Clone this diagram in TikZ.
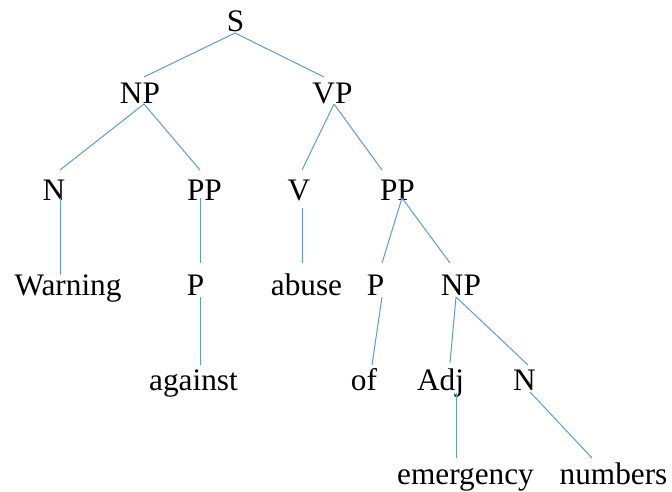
\documentclass[tikz,border=0pt]{standalone}
\usepackage{fontspec}
\setmainfont{Liberation Serif}
\definecolor{branch}{RGB}{91,155,213}
\begin{document}
\begin{tikzpicture}[x=1pt,y=-1pt,
  lbl/.style={inner sep=0pt, anchor=base, font=\fontsize{31.3}{36}\selectfont},
  edge/.style={draw=branch, line width=1pt}]
\useasboundingbox (0,0) rectangle (672,492);
% labels, placed by their baselines
\node[lbl] (S)   at (235.5,32)  {S};
\node[lbl] (NP1) at (140,104)   {NP};
\node[lbl] (VP)  at (332.5,104) {VP};
\node[lbl] (N1)  at (54,200)    {N};
\node[lbl] (PP1) at (204.5,200) {PP};
\node[lbl] (V)   at (299,200)   {V};
\node[lbl] (PP2) at (397.5,200) {PP};
\node[lbl] (W)   at (68,295)    {Warning};
\node[lbl] (P1)  at (195.5,295) {P};
\node[lbl] (AB)  at (306.5,295) {abuse};
\node[lbl] (P2)  at (375.5,295) {P};
\node[lbl] (NP2) at (461,295)   {NP};
\node[lbl] (AG)  at (193.5,390) {against};
\node[lbl] (OF)  at (364,390)   {of};
\node[lbl] (ADJ) at (440.5,390) {Adj};
\node[lbl] (N2)  at (524.5,390) {N};
\node[lbl] (EM)  at (465.5,484) {emergency};
\node[lbl] (NU)  at (613.5,484) {numbers};
% branches
\draw[edge] ([xshift=-0.5pt,yshift=-1pt]S.base) -- ([xshift=4pt,yshift=27pt]NP1.base);
\draw[edge] ([xshift=-0.5pt,yshift=-1pt]S.base) -- ([xshift=-8.5pt,yshift=27pt]VP.base);
\draw[edge] ([xshift=4pt]NP1.base) -- ([xshift=6pt,yshift=30pt]N1.base);
\draw[edge] ([xshift=4pt]NP1.base) -- ([xshift=-4.5pt,yshift=30pt]PP1.base);
\draw[edge] ([xshift=1.5pt]VP.base) -- ([xshift=3pt,yshift=30pt]V.base);
\draw[edge] ([xshift=1.5pt]VP.base) -- ([xshift=-15.5pt,yshift=30pt]PP2.base);
\draw[edge] ([xshift=6pt,yshift=2pt]N1.base) -- ([xshift=-8pt,yshift=20pt]W.base);
\draw[edge] ([xshift=-4.5pt,yshift=2pt]PP1.base) -- ([xshift=4.5pt,yshift=32pt]P1.base);
\draw[edge] ([xshift=3pt,yshift=-8pt]V.base) -- ([xshift=-4.5pt,yshift=32pt]AB.base);
\draw[edge] ([xshift=4.5pt,yshift=2pt]PP2.base) -- ([xshift=6.5pt,yshift=32pt]P2.base);
\draw[edge] ([xshift=4.5pt,yshift=2pt]PP2.base) -- ([xshift=-11pt,yshift=32pt]NP2.base);
\draw[edge] ([xshift=4.5pt,yshift=-2pt]P1.base) -- ([xshift=6.5pt,yshift=25pt]AG.base);
\draw[edge] ([xshift=6.5pt,yshift=-2pt]P2.base) -- ([xshift=8pt,yshift=25pt]OF.base);
\draw[edge] ([xshift=-5pt,yshift=-2pt]NP2.base) -- ([xshift=9.5pt,yshift=27pt]ADJ.base);
\draw[edge] ([xshift=-5pt,yshift=-2pt]NP2.base) -- ([xshift=3.5pt,yshift=25pt]N2.base);
\draw[edge] ([xshift=15.5pt,yshift=-3pt]ADJ.base) -- ([xshift=-9.5pt,yshift=26pt]EM.base);
\draw[edge] ([xshift=5.5pt,yshift=-2pt]N2.base) -- ([xshift=-21.5pt,yshift=26pt]NU.base);
\end{tikzpicture}
\end{document}
